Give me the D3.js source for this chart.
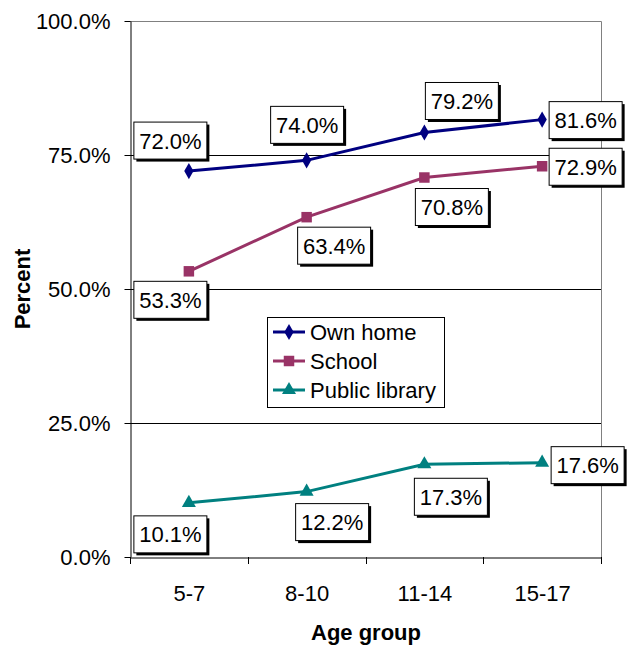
<!DOCTYPE html>
<html><head><meta charset="utf-8">
<script src="https://cdn.jsdelivr.net/npm/d3@7"></script>
<style>body{margin:0;background:#fff;}svg{display:block;font-family:Arial,"Liberation Sans",sans-serif;}</style>
</head><body>
<svg id="c" width="628" height="648"></svg>
<script>
const categories = ["5-7", "8-10", "11-14", "15-17"];
const ownHome = [72.0, 74.0, 79.2, 81.6];
const school = [53.3, 63.4, 70.8, 72.9];
const publicLibrary = [10.1, 12.2, 17.3, 17.6];
const yTicks = [0, 25, 50, 75, 100];
const seriesNames = ["Own home", "School", "Public library"];

// label placement offsets (layout only)
const labelOffsets = [
  [[-19,-31],[0,-36],[37,-32],[43,0]],
  [[-19,28],[27,28],[27,29],[43,0]],
  [[-19,31],[25,30],[26,32],[45,2]]
];

const series = [
  {name: seriesNames[0], values: ownHome, color: "#000080", symbol: d3.symbolDiamond, size: 75},
  {name: seriesNames[1], values: school, color: "#993366", symbol: d3.symbolSquare, size: 110},
  {name: seriesNames[2], values: publicLibrary, color: "#008080", symbol: d3.symbolTriangle, size: 85}
];

const FS = 22;
const svg = d3.select("#c");
const L = 130, R = 601, T = 21, B = 557;
const x = d3.scalePoint().domain(categories).range([L, R]).padding(0.5);
const xb = d3.scaleBand().domain(categories).range([L, R]);
const y = d3.scaleLinear().domain([0, 100]).range([B, T]);

// plot border (top/right)
svg.append("path").attr("d", `M${L},${T+0.5}H${R+0.5}V${B}`).attr("fill","none").attr("stroke","#808080").attr("stroke-width",1);
// gridlines
svg.append("g").selectAll("line").data(yTicks.filter(t => t > 0 && t < 100)).join("line")
  .attr("x1", L).attr("x2", R).attr("y1", d => Math.round(y(d))+0.5).attr("y2", d => Math.round(y(d))+0.5)
  .attr("stroke", "#000").attr("stroke-width", 1);

// y axis
const yAxis = svg.append("g").attr("transform", `translate(${L+0.5},0)`)
  .call(d3.axisLeft(y).tickValues(yTicks).tickSize(6).tickSizeOuter(0).tickFormat(d => d.toFixed(1) + "%"));
yAxis.select(".domain").attr("stroke","#000");
yAxis.selectAll("line").attr("stroke","#000");
yAxis.selectAll("text").attr("font-size", FS).attr("x", -20).attr("fill","#000").attr("font-family","Arial, 'Liberation Sans', sans-serif");

// x axis
const xAxis = svg.append("g").attr("transform", `translate(0,${B+0.5})`)
  .call(d3.axisBottom(x).tickSize(0).tickSizeOuter(0));
xAxis.select(".domain").attr("stroke","#000");
xAxis.selectAll("text").attr("font-size", FS).attr("dy", 0).attr("y", 43).attr("fill","#000").attr("font-family","Arial, 'Liberation Sans', sans-serif");
svg.append("g").selectAll("line").data(categories.concat([null])).join("line")
  .attr("x1", (d,i) => Math.round(L + i*xb.step())+0.5).attr("x2", (d,i) => Math.round(L + i*xb.step())+0.5)
  .attr("y1", B).attr("y2", B+7).attr("stroke","#000");

// axis titles
svg.append("text").attr("x", 366).attr("y", 640).attr("text-anchor","middle").attr("font-weight","bold").attr("font-size",FS).text("Age group");
svg.append("text").attr("transform","translate(30,289) rotate(-90)").attr("text-anchor","middle").attr("font-weight","bold").attr("font-size",FS).text("Percent");

// lines and markers
const line = d3.line().x((d,i) => x(categories[i])).y(d => y(d));
series.forEach(s => {
  svg.append("path").attr("d", line(s.values)).attr("fill","none").attr("stroke", s.color).attr("stroke-width", 3);
  svg.append("g").selectAll("path").data(s.values).join("path")
    .attr("transform", (d,i) => `translate(${x(categories[i])},${y(d)})`)
    .attr("d", d3.symbol(s.symbol, s.size)).attr("fill", s.color);
});

// data labels
series.forEach((s, si) => {
  s.values.forEach((v, i) => {
    const cx = x(categories[i]) + labelOffsets[si][i][0];
    const cy = y(v) + labelOffsets[si][i][1];
    const w = 73, h = 37;
    const g = svg.append("g");
    g.append("rect").attr("x", cx - w/2 + 3).attr("y", cy - h/2 + 3).attr("width", w).attr("height", h).attr("fill","#000");
    g.append("rect").attr("x", cx - w/2 + 0.5).attr("y", cy - h/2 + 0.5).attr("width", w).attr("height", h).attr("fill","#fff").attr("stroke","#000").attr("stroke-width",1);
    g.append("text").attr("x", cx + 0.5).attr("y", cy + 8.5).attr("text-anchor","middle").attr("font-size",FS).text(v.toFixed(1) + "%");
  });
});

// legend
const lg = svg.append("g");
lg.append("rect").attr("x", 267.5).attr("y", 317.5).attr("width", 177).attr("height", 90).attr("fill","#fff").attr("stroke","#000");
series.forEach((s, i) => {
  const ly = 332 + i * 29;
  lg.append("line").attr("x1", 273).attr("x2", 305).attr("y1", ly).attr("y2", ly).attr("stroke", s.color).attr("stroke-width", 3);
  lg.append("path").attr("transform", `translate(289,${ly})`).attr("d", d3.symbol(s.symbol, s.size)).attr("fill", s.color);
  lg.append("text").attr("x", 310).attr("y", ly + 8).attr("font-size", FS).text(s.name);
});
</script>
</body></html>
